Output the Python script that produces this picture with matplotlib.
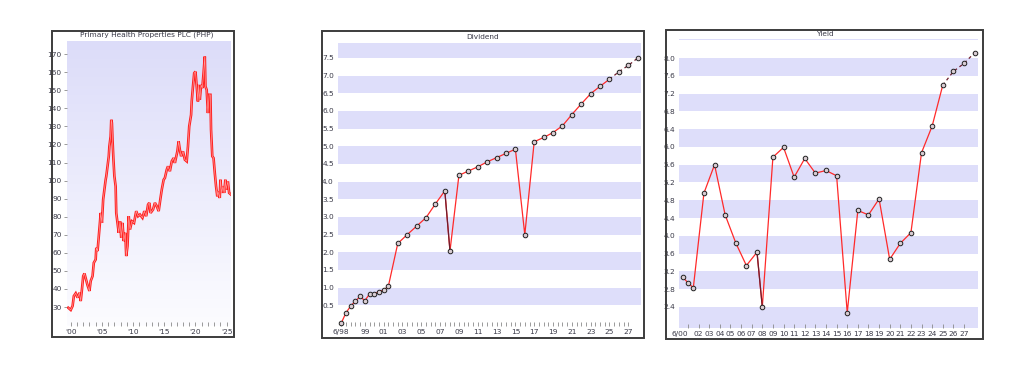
import matplotlib
matplotlib.use("Agg")
import matplotlib.pyplot as plt
import numpy as np
from matplotlib.colors import LinearSegmentedColormap
from matplotlib.patches import Rectangle

W, H = 1024, 379

# --- share price (PHP) ---
price_year = [1999.6, 2000.0, 2000.3, 2000.5, 2000.8, 2001.1, 2001.4, 2001.6, 2001.8, 2002.0,
              2002.2, 2002.45, 2002.7, 2003.0, 2003.2, 2003.5, 2003.7, 2004.0, 2004.1, 2004.3,
              2004.5, 2004.7, 2004.8, 2005.0, 2005.2, 2005.4, 2005.6, 2005.7, 2005.9, 2006.1,
              2006.2, 2006.4, 2006.5, 2006.6, 2006.7, 2006.85, 2007.0, 2007.2, 2007.3, 2007.5,
              2007.7, 2007.9, 2008.1, 2008.3, 2008.5, 2008.75, 2008.9, 2009.1, 2009.3, 2009.5,
              2009.8, 2010.15, 2010.5, 2010.8, 2011.1, 2011.5, 2011.8, 2012.1, 2012.4, 2012.6,
              2012.8, 2013.2, 2013.5, 2013.8, 2014.1, 2014.4, 2014.6, 2014.9, 2015.1, 2015.4,
              2015.6, 2015.9, 2016.2, 2016.5, 2016.7, 2017.1, 2017.3, 2017.5, 2017.7, 2018.0,
              2018.3, 2018.6, 2018.8, 2019.0, 2019.3, 2019.4, 2019.6, 2019.8, 2020.0, 2020.2,
              2020.4, 2020.5, 2020.7, 2020.9, 2021.1, 2021.3, 2021.5, 2021.6, 2021.8, 2022.0,
              2022.2, 2022.4, 2022.5, 2022.7, 2022.9, 2023.1, 2023.3, 2023.5, 2023.6, 2023.9,
              2024.0, 2024.2, 2024.4, 2024.6, 2024.8, 2024.9, 2025.2, 2025.4, 2025.7]
price = [29.6, 28.4, 30.6, 36.1, 37.6, 35.2, 37.9, 33.3, 39.8, 47.1,
         48.6, 45.3, 42.0, 38.9, 44.4, 47.1, 54.5, 56.3, 62.8, 61.0,
         69.2, 77.5, 82.1, 76.6, 89.5, 95.0, 100.5, 102.4, 107.9, 113.5,
         119.0, 124.5, 133.7, 131.9, 122.6, 111.6, 102.4, 96.9, 82.1, 76.6,
         71.1, 77.5, 68.3, 76.6, 66.5, 71.1, 58.2, 63.7, 80.3, 72.9,
         77.5, 76.6, 83.1, 80.3, 81.2, 79.4, 83.1, 80.3, 86.7, 87.7,
         82.1, 84.0, 87.7, 85.8, 83.1, 90.4, 95.0, 100.5, 101.5, 106.1,
         107.9, 105.2, 110.7, 112.5, 109.8, 116.2, 121.7, 117.1, 113.5, 116.2,
         111.6, 110.7, 119.0, 130.0, 136.4, 143.8, 152.1, 159.5, 160.4, 152.1,
         143.8, 153.0, 144.8, 153.0, 151.2, 159.5, 168.7, 152.1, 150.3, 137.4,
         147.5, 147.5, 128.2, 113.5, 112.5, 104.2, 96.9, 91.3, 94.1, 90.4,
         100.5, 93.2, 96.9, 93.2, 100.5, 95.0, 99.6, 93.2, 92.3]
price_ticks = [2000, 2005, 2010, 2015, 2020, 2025]
price_tick_labels = ["'00", "'05", "'10", "'15", "'20", "'25"]

# --- dividend per share ---
div_x = [1996.5, 1997.0, 1997.5, 1998.0, 1998.5, 1999.0, 1999.5, 2000.0, 2000.5, 2001.0,
         2001.5, 2002.5, 2003.5, 2004.5, 2005.5, 2006.5, 2007.5, 2008.05, 2009.0, 2010.0,
         2011.0, 2012.0, 2013.0, 2014.0, 2015.0, 2016.0, 2017.0, 2018.0, 2019.0, 2020.0,
         2021.0, 2022.0, 2023.0, 2024.0, 2025.0, 2026.0, 2027.0, 2028.0]
div_val = [0.0, 0.29, 0.48, 0.62, 0.75, 0.63, 0.82, 0.82, 0.89, 0.93,
           1.04, 2.25, 2.50, 2.74, 2.98, 3.37, 3.74, 2.04, 4.18, 4.30,
           4.42, 4.56, 4.68, 4.80, 4.92, 2.50, 5.13, 5.25, 5.39, 5.58,
           5.90, 6.20, 6.49, 6.70, 6.90, 7.11, 7.29, 7.50]
div_forecast_from = 34
div_dark_seg = 16
div_tick_pos = [1996.5] + list(range(1999, 2028, 2))
div_tick_labels = ["6/98"] + ["%02d" % (y % 100) for y in range(1999, 2028, 2)]
div_yticks = [0.5, 1.0, 1.5, 2.0, 2.5, 3.0, 3.5, 4.0, 4.5, 5.0, 5.5, 6.0, 6.5, 7.0, 7.5]

# --- dividend yield ---
yld_x = [2000.5, 2001.0, 2001.5, 2002.5, 2003.5, 2004.5, 2005.5, 2006.5, 2007.5, 2008.0,
         2009.0, 2010.0, 2011.0, 2012.0, 2013.0, 2014.0, 2015.0, 2016.0, 2017.0, 2018.0,
         2019.0, 2020.0, 2021.0, 2022.0, 2023.0, 2024.0, 2025.0, 2026.0, 2027.0, 2028.0]
yld_val = [3.07, 2.94, 2.83, 4.96, 5.60, 4.47, 3.84, 3.33, 3.63, 2.40,
           5.77, 5.99, 5.32, 5.74, 5.41, 5.47, 5.35, 2.27, 4.57, 4.47,
           4.83, 3.47, 3.83, 4.07, 5.87, 6.47, 7.39, 7.70, 7.88, 8.12]
yld_forecast_from = 26
yld_dark_seg = 8
yld_tick_pos = [2000.24, 2001] + list(range(2002, 2028))
yld_tick_labels = ["6/00", ""] + ["%02d" % (y % 100) for y in range(2002, 2028)]
yld_yticks = [2.4, 2.8, 3.2, 3.6, 4.0, 4.4, 4.8, 5.2, 5.6, 6.0, 6.4, 6.8, 7.2, 7.6, 8.0]

RED = "#ff2a2a"
DARK = "#6e1c2c"
BAND = "#dedefa"
TXT = "#3a3a48"


def rect(l, t, r, b):
    # pixel box -> figure fraction
    return [l / W, 1 - b / H, (r - l) / W, (b - t) / H]


def frame(fig, l, t, r, b):
    fig.add_artist(Rectangle((l / W, 1 - b / H), (r - l) / W, (b - t) / H,
                             transform=fig.transFigure, fill=False,
                             edgecolor="#3c3c3c", linewidth=1.4))


def style(ax):
    for s in ax.spines.values():
        s.set_visible(False)
    ax.tick_params(axis="x", direction="in", length=3, width=0.6, color="#8a8a8a",
                   labelsize=5.3, labelcolor=TXT, pad=2)
    ax.tick_params(axis="y", length=0, labelsize=5.3, labelcolor=TXT, pad=3)


def bands(ax, lo, step, top):
    y = lo
    while y < top:
        ax.axhspan(y, y + step, color=BAND, lw=0, zorder=0)
        y += 2 * step


def series(ax, x, v, dark_seg, fc_from):
    x = np.array(x)
    v = np.array(v)
    ax.plot(x[:fc_from + 1], v[:fc_from + 1], color=RED, lw=0.9, zorder=2)
    ax.plot(x[dark_seg:dark_seg + 2], v[dark_seg:dark_seg + 2], color=DARK, lw=0.9, zorder=3)
    ax.plot(x[fc_from:], v[fc_from:], color=DARK, lw=0.9, ls=(0, (2.5, 2.5)), zorder=2)
    ax.plot(x, v, ls="none", marker="o", ms=3.3, mfc="#d9cdd3", mec="#202020",
            mew=0.7, zorder=4)


fig = plt.figure(figsize=(W / 100, H / 100), dpi=100)
fig.patch.set_facecolor("white")

# ---------- left: price ----------
frame(fig, 52, 31, 234, 337)
ax1 = fig.add_axes(rect(67.3, 41, 231, 326))
style(ax1)
x0, x1, y0, y1 = 1999.45, 2025.7, 19.5, 177.3
grad = LinearSegmentedColormap.from_list("g", ["#fcfcff", "#dcdcf9"])
ax1.imshow(np.linspace(0, 1, 256).reshape(-1, 1), cmap=grad, origin="lower",
           extent=[x0, x1, y0, y1], aspect="auto", zorder=0)
ax1.plot(price_year, price, color="#ff2020", lw=1.9, solid_joinstyle="miter", zorder=2)
ax1.plot(price_year, price, color="#ff9a9a", lw=0.5, zorder=3)
ax1.set_xlim(x0, x1)
ax1.set_ylim(y0, y1)
ax1.set_xticks(price_ticks)
ax1.set_xticklabels(price_tick_labels)
ax1.set_xticks(range(2001, 2025), minor=True)
ax1.tick_params(axis="x", which="minor", direction="in", length=3, width=0.6, color="#8a8a8a")
ax1.set_yticks(range(30, 171, 10))
ax1.tick_params(axis="y", length=2.5, width=0.6, color="#8a8a8a", pad=1.5)
fig.text(147 / W, 1 - 35 / H, "Primary Health Properties PLC (PHP)", ha="center",
         va="center", fontsize=5.3, color=TXT)

# ---------- middle: dividend ----------
frame(fig, 322, 31, 644, 338)
ax2 = fig.add_axes(rect(338, 43.3, 641.3, 326))
style(ax2)
ax2.set_xlim(1996.15, 2028.38)
ax2.set_ylim(-0.085, 7.916)
bands(ax2, 0.5, 0.5, 8.0)
series(ax2, div_x, div_val, div_dark_seg, div_forecast_from)
ax2.set_xticks(div_tick_pos)
ax2.set_xticklabels(div_tick_labels)
ax2.set_xticks(np.arange(1997.0, 2027.5, 0.5), minor=True)
ax2.tick_params(axis="x", which="minor", direction="in", length=3, width=0.6, color="#8a8a8a")
ax2.set_yticks(div_yticks)
ax2.set_yticklabels(["%.1f" % t for t in div_yticks])
fig.text(483 / W, 1 - 37.3 / H, "Dividend", ha="center", va="center",
         fontsize=5.3, color=TXT)

# ---------- right: yield ----------
frame(fig, 666, 29.5, 983, 338.5)
ax3 = fig.add_axes(rect(679.3, 39, 978, 328))
style(ax3)
ax3.set_xlim(2000.18, 2028.32)
ax3.set_ylim(1.924, 8.43)
ax3.axhspan(1.924, 2.4, color=BAND, lw=0, zorder=0)
bands(ax3, 2.8, 0.4, 8.43)
series(ax3, yld_x, yld_val, yld_dark_seg, yld_forecast_from)
ax3.set_xticks(yld_tick_pos)
ax3.set_xticklabels(yld_tick_labels)
ax3.xaxis.get_major_ticks()[0].tick1line.set_visible(False)
ax3.set_yticks(yld_yticks)
ax3.set_yticklabels(["%.1f" % t for t in yld_yticks])
fig.text(824.5 / W, 1 - 34 / H, "Yield", ha="center", va="center",
         fontsize=5.3, color=TXT)

fig.savefig("out.png", dpi=100)
